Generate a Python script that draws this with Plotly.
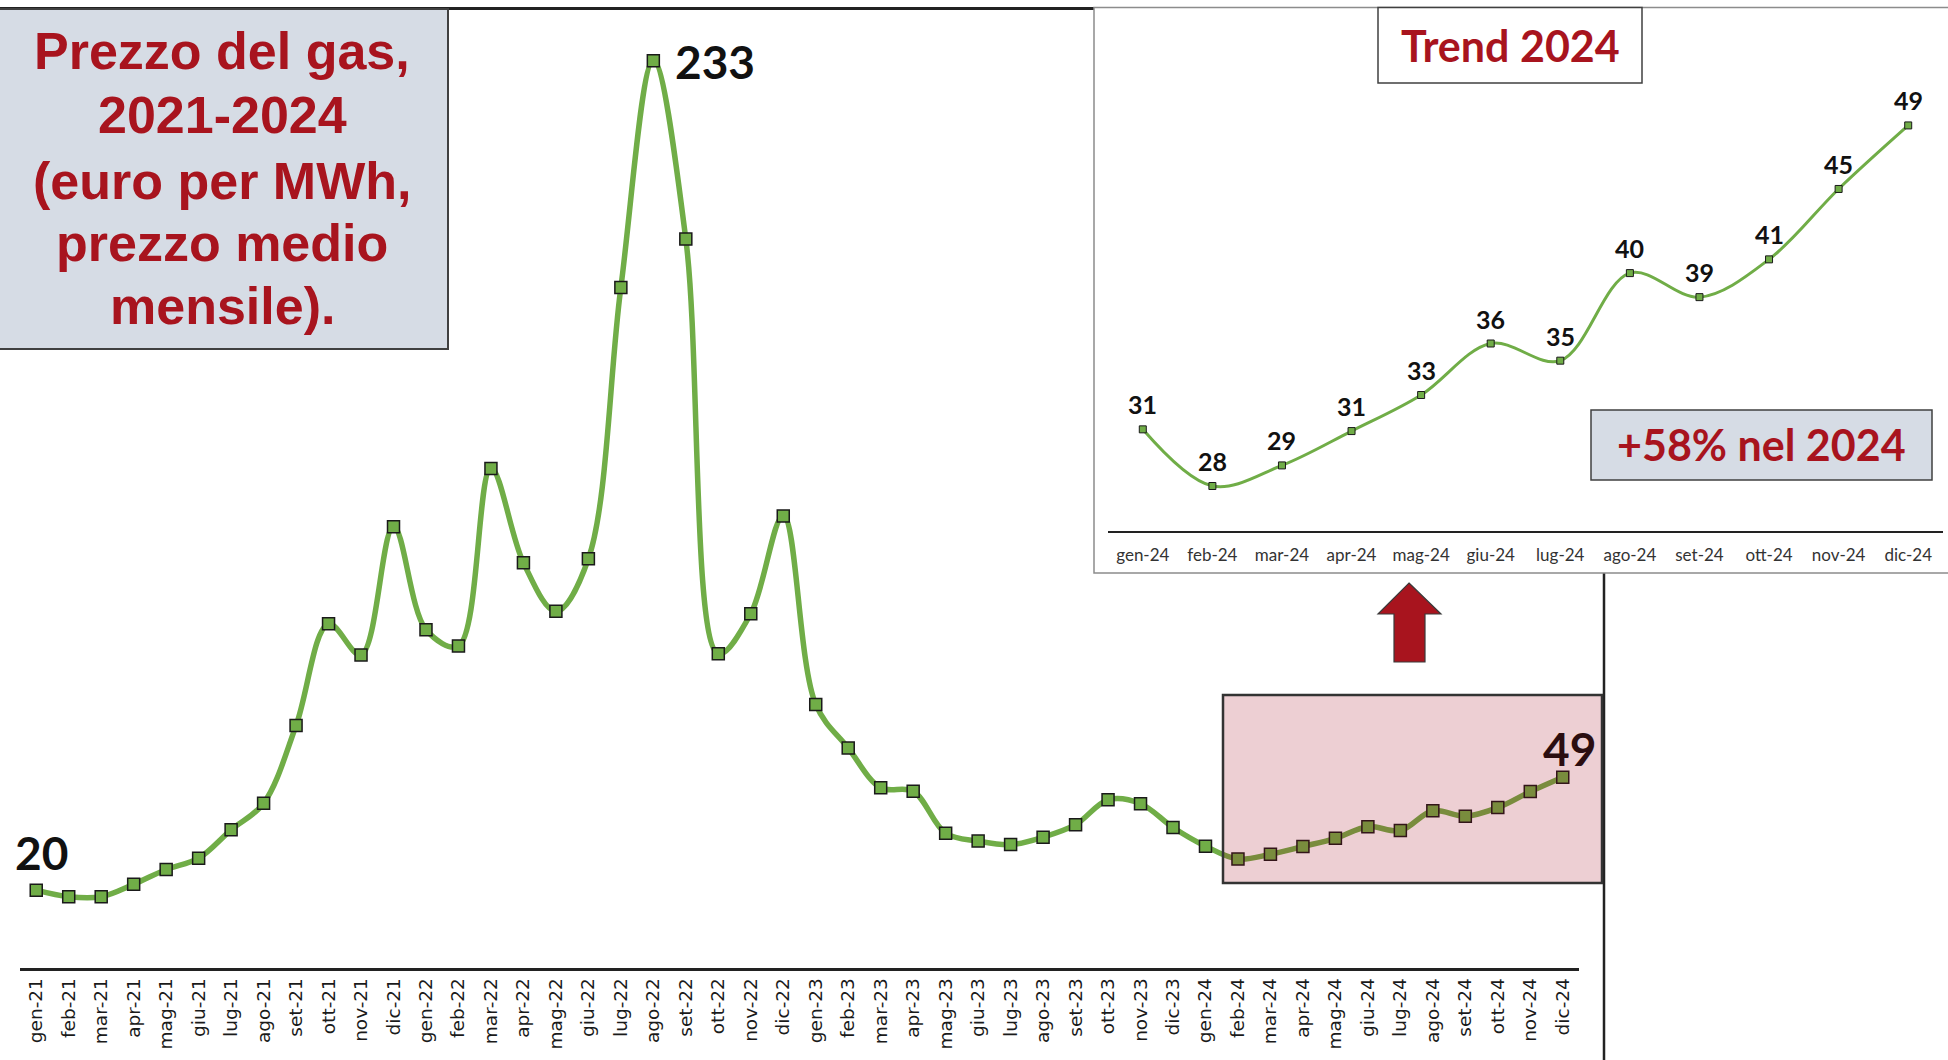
import plotly.graph_objects as go

W, H = 1948, 1060

# ---------------- data ----------------
months = ["gen-21", "feb-21", "mar-21", "apr-21", "mag-21", "giu-21", "lug-21", "ago-21", "set-21", "ott-21", "nov-21", "dic-21",
          "gen-22", "feb-22", "mar-22", "apr-22", "mag-22", "giu-22", "lug-22", "ago-22", "set-22", "ott-22", "nov-22", "dic-22",
          "gen-23", "feb-23", "mar-23", "apr-23", "mag-23", "giu-23", "lug-23", "ago-23", "set-23", "ott-23", "nov-23", "dic-23",
          "gen-24", "feb-24", "mar-24", "apr-24", "mag-24", "giu-24", "lug-24", "ago-24", "set-24", "ott-24", "nov-24", "dic-24"]

prices_2021 = [20.0, 18.3, 18.3, 21.5, 25.3, 28.2, 35.5, 42.3, 62.3, 88.4, 80.4, 113.3]
prices_2022 = [86.9, 82.7, 128.3, 104.1, 91.6, 105.1, 174.8, 233.0, 187.2, 80.7, 91.0, 116.1]
prices_2023 = [67.7, 56.5, 46.3, 45.4, 34.6, 32.6, 31.7, 33.6, 36.8, 43.2, 42.2, 36.1]
prices_2024 = [31.3, 28.0, 29.2, 31.2, 33.3, 36.3, 35.3, 40.4, 39.0, 41.2, 45.3, 49.0]
prices = prices_2021 + prices_2022 + prices_2023 + prices_2024

months_2024 = months[36:]

title_lines = ["Prezzo del gas,", "2021-2024", "(euro per MWh,", "prezzo medio", "mensile)."]
trend_title = "Trend 2024"
growth_note = "+58% nel 2024"

# ---------------- style ----------------
GREEN = "#70AD47"
RED = "#A8141E"
BOXFILL = "#D6DCE5"


def px(x):
    return x / W


def py(y):
    return 1 - y / H


fig = go.Figure()

# main series
fig.add_trace(go.Scatter(
    x=months, y=prices, mode="lines+markers",
    line=dict(color=GREEN, width=5.5, shape="spline", smoothing=1.0),
    marker=dict(symbol="square", size=12, color=GREEN, line=dict(color="#1a1a1a", width=1.5)),
    xaxis="x", yaxis="y", showlegend=False, hoverinfo="x+y",
))

# inset series (2024)
fig.add_trace(go.Scatter(
    x=months_2024, y=prices_2024, mode="lines+markers",
    line=dict(color=GREEN, width=3, shape="spline", smoothing=1.0),
    marker=dict(symbol="square", size=7, color=GREEN, line=dict(color="#1a1a1a", width=1)),
    xaxis="x2", yaxis="y2", showlegend=False, hoverinfo="x+y",
))

shapes = []
# main frame lines (top + right)
shapes.append(dict(type="line", xref="paper", yref="paper", x0=px(0), x1=px(1604), y0=py(8.5), y1=py(8.5),
                   line=dict(color="#222222", width=3), layer="below"))
shapes.append(dict(type="line", xref="paper", yref="paper", x0=px(1604), x1=px(1604), y0=py(8.5), y1=py(1062),
                   line=dict(color="#222222", width=2.5), layer="below"))
# inset panel
shapes.append(dict(type="rect", xref="paper", yref="paper", x0=px(1094), x1=px(1952), y0=py(7.5), y1=py(573),
                   fillcolor="white", line=dict(color="#8c8c8c", width=1.5), layer="below"))
# trend title box
shapes.append(dict(type="rect", xref="paper", yref="paper", x0=px(1378), x1=px(1642), y0=py(7.5), y1=py(83),
                   fillcolor="white", line=dict(color="#404040", width=1.5), layer="below"))
# +58% box
shapes.append(dict(type="rect", xref="paper", yref="paper", x0=px(1591), x1=px(1932), y0=py(410), y1=py(480),
                   fillcolor=BOXFILL, line=dict(color="#404040", width=1.5), layer="below"))
# title box
shapes.append(dict(type="rect", xref="paper", yref="paper", x0=px(-2), x1=px(448), y0=py(9), y1=py(349),
                   fillcolor=BOXFILL, line=dict(color="#404040", width=2), layer="below"))
# pink highlight overlay
shapes.append(dict(type="rect", xref="paper", yref="paper", x0=px(1223), x1=px(1602), y0=py(695), y1=py(883),
                   fillcolor="rgba(160,0,20,0.19)", line=dict(color="#333333", width=2.5), layer="above"))
# red arrow
ax = [1409, 1441, 1425, 1425, 1394, 1394, 1378]
ay = [583, 614, 614, 662, 662, 614, 614]
path = "M " + " L ".join(f"{px(a):.5f},{py(b):.5f}" for a, b in zip(ax, ay)) + " Z"
shapes.append(dict(type="path", xref="paper", yref="paper", path=path,
                   fillcolor=RED, line=dict(color="#3a3a3a", width=1.2), layer="above"))

annotations = []
# title lines
title_y = [50.7, 115, 180.7, 242.7, 305.7]
for t, yy in zip(title_lines, title_y):
    annotations.append(dict(text=t, xref="paper", yref="paper", x=px(222), y=py(yy), xanchor="center", yanchor="middle",
                            showarrow=False, font=dict(family="Liberation Sans, Arial", size=52, color=RED, weight="bold")))

annotations.append(dict(text=trend_title, xref="paper", yref="paper", x=px(1510), y=py(45), xanchor="center", yanchor="middle",
                        showarrow=False, font=dict(family="Lato", size=43, color=RED, weight="bold")))
annotations.append(dict(text=growth_note, xref="paper", yref="paper", x=px(1761), y=py(445), xanchor="center", yanchor="middle",
                        showarrow=False, font=dict(family="Lato", size=43, color=RED, weight="bold")))

# main data callouts
imax = prices.index(max(prices))
annotations.append(dict(text=f"{prices[imax]:.0f}", x=months[imax], y=prices[imax], xref="x", yref="y",
                        xanchor="left", yanchor="middle", xshift=20, yshift=-1, showarrow=False,
                        font=dict(family="Lato", size=46, color="#111111", weight="bold")))
annotations.append(dict(text=f"{prices[0]:.0f}", x=months[0], y=prices[0], xref="x", yref="y",
                        xanchor="center", yanchor="middle", xshift=5, yshift=38, showarrow=False,
                        font=dict(family="Lato", size=46, color="#111111", weight="bold")))
annotations.append(dict(text=f"{prices[-1]:.0f}", x=months[-1], y=prices[-1], xref="x", yref="y",
                        xanchor="center", yanchor="middle", xshift=7, yshift=29, showarrow=False,
                        font=dict(family="Lato", size=46, color="#2b0d10", weight="bold")))

# inset data labels
for m, v in zip(months_2024, prices_2024):
    annotations.append(dict(text=f"{v:.0f}", x=m, y=v, xref="x2", yref="y2", xanchor="center", yanchor="middle",
                            yshift=25, showarrow=False,
                            font=dict(family="Lato", size=25, color="#111111", weight="bold")))

fig.update_layout(
    width=W, height=H,
    margin=dict(l=0, r=0, t=0, b=0),
    paper_bgcolor="white", plot_bgcolor="rgba(0,0,0,0)",
    showlegend=False,
    xaxis=dict(domain=[px(20), px(1579)], range=[-0.5, 47.5], type="category",
               showline=True, linecolor="#222222", linewidth=2.5, showgrid=False, zeroline=False,
               ticks="", tickangle=-90, ticklabelstandoff=0,
               tickfont=dict(family="DejaVu Sans", size=18.5, color="#1a1a1a"), anchor="y"),
    yaxis=dict(domain=[py(968), py(9)], range=[0, 246.3], visible=False, anchor="x"),
    xaxis2=dict(domain=[px(1108), px(1943)], range=[-0.5, 11.5], type="category",
                showline=True, linecolor="#222222", linewidth=1.5, showgrid=False, zeroline=False,
                ticks="", tickangle=0, ticklabelstandoff=8,
                tickfont=dict(family="Lato", size=17, color="#333333"), anchor="y2"),
    yaxis2=dict(domain=[py(531), py(20)], range=[25.38, 55.14], visible=False, anchor="x2"),
    shapes=shapes,
    annotations=annotations,
)

fig.write_html(
    "out.html",
    config={"displayModeBar": False},
    post_script="document.body.style.margin='0px';document.body.style.overflow='hidden';",
)
